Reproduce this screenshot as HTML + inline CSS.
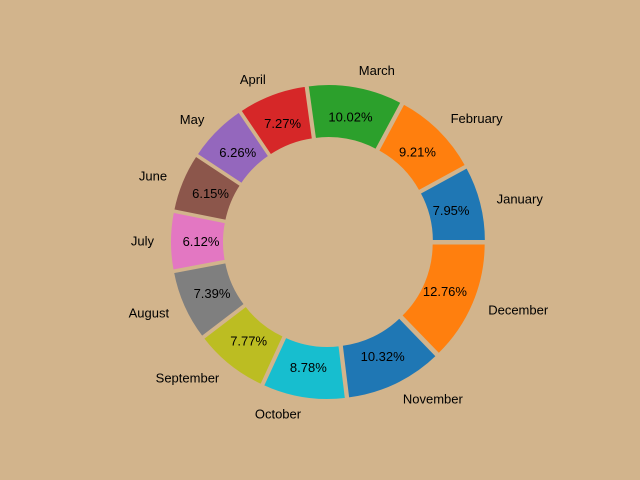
<!DOCTYPE html>
<html><head><meta charset="utf-8"><style>
html,body{margin:0;padding:0;background:#d2b48c;}
svg{display:block;font-family:"Liberation Sans","DejaVu Sans",sans-serif;}
</style></head><body>
<svg id="chart" width="640" height="480" viewBox="0 0 640 480">
<rect width="640" height="480" fill="#d2b48c"/>
<g id="slices"></g>
<g id="labels"></g>
</svg>
<script>
const categories = ["January","February","March","April","May","June","July","August","September","October","November","December"];
const values = [7.95,9.21,10.02,7.27,6.26,6.15,6.12,7.39,7.77,8.78,10.32,12.76];
const colors = ["#1f77b4","#ff7f0e","#2ca02c","#d62728","#9467bd","#8c564b","#e377c2","#7f7f7f","#bcbd22","#17becf","#1f77b4","#ff7f0e"];
const cx=328, cy=242, R=154, r=100, explode=4, pctR=123, labR=170;
const ns="http://www.w3.org/2000/svg";
const gS=document.getElementById('slices'), gL=document.getElementById('labels');
const total=values.reduce((a,b)=>a+b,0);
let a0=0;
function pt(rad,ang,ox,oy){return [cx+ox+rad*Math.cos(ang), cy+oy-rad*Math.sin(ang)];}
values.forEach((v,i)=>{
  const a1=a0+v/total*2*Math.PI, am=(a0+a1)/2;
  const ox=explode*Math.cos(am), oy=-explode*Math.sin(am);
  const p1=pt(R,a0,ox,oy), p2=pt(R,a1,ox,oy), p3=pt(r,a1,ox,oy), p4=pt(r,a0,ox,oy);
  const large=(a1-a0)>Math.PI?1:0;
  const path=document.createElementNS(ns,'path');
  path.setAttribute('d',`M${p1[0]},${p1[1]} A${R},${R} 0 ${large} 0 ${p2[0]},${p2[1]} L${p3[0]},${p3[1]} A${r},${r} 0 ${large} 1 ${p4[0]},${p4[1]} Z`);
  path.setAttribute('fill',colors[i]);
  path.setAttribute('stroke','#d2b48c');
  path.setAttribute('stroke-width','2');
  
  
  gS.appendChild(path);
  const pp=pt(pctR,am,ox,oy);
  const t=document.createElementNS(ns,'text');
  t.setAttribute('x',pp[0]);t.setAttribute('y',pp[1]+4.5);
  t.setAttribute('text-anchor','middle');t.setAttribute('font-size','13');
  t.textContent=v.toFixed(2)+'%';
  
  
  gL.appendChild(t);
  const lp=pt(labR,am,ox,oy);
  const l=document.createElementNS(ns,'text');
  l.setAttribute('x',lp[0]);l.setAttribute('y',lp[1]+4.5);
  l.setAttribute('text-anchor',Math.cos(am)>0.01?'start':(Math.cos(am)<-0.01?'end':'middle'));
  l.setAttribute('font-size','13');
  l.textContent=categories[i];
  
  
  gL.appendChild(l);
  a0=a1;
});
</script>
</body></html>
